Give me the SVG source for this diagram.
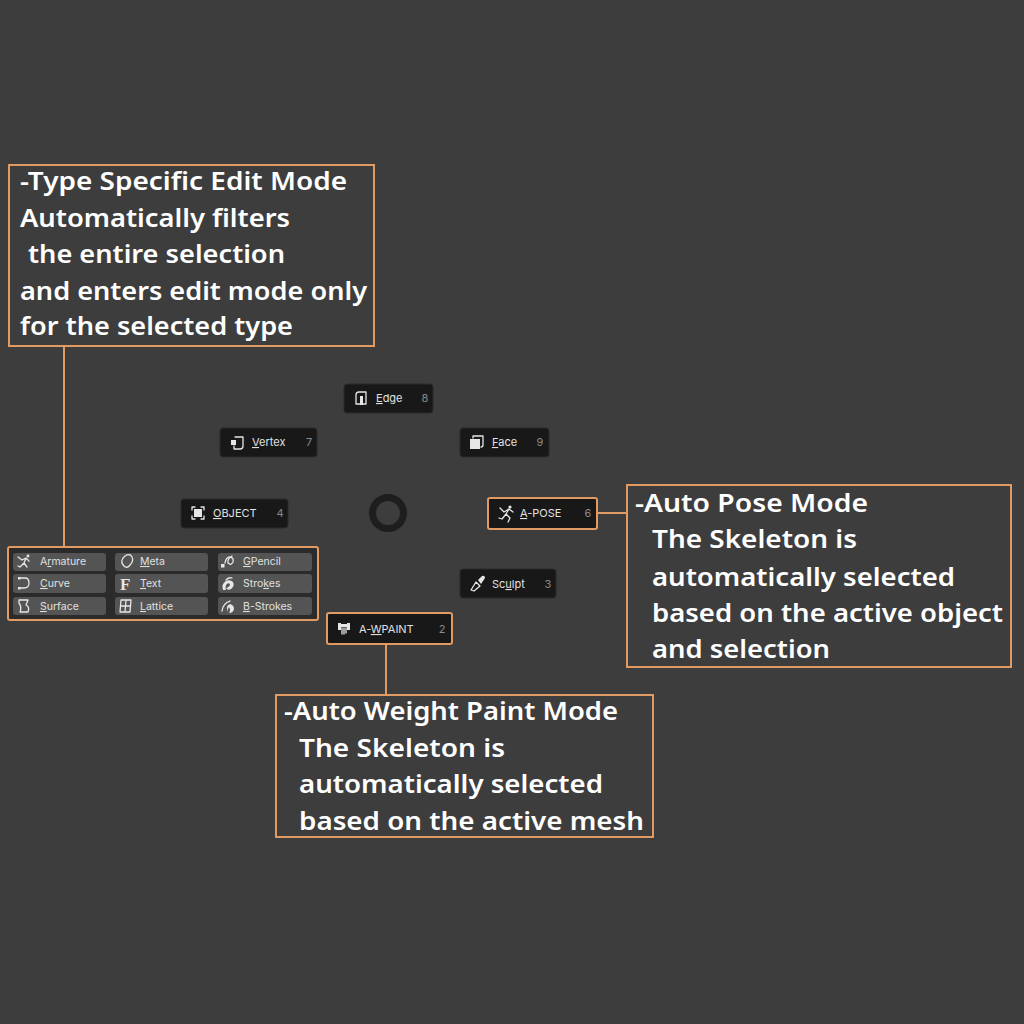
<svg xmlns="http://www.w3.org/2000/svg" width="1024" height="1024" viewBox="0 0 1024 1024">
<defs>
<style>
.bg{fill:#3d3d3d}
.note{fill:#3d3d3d;stroke:#e09a62;stroke-width:2}
.conn{stroke:#e09a62;stroke-width:2;fill:none}
.nt{font-family:"Noto Sans","DejaVu Sans",sans-serif;font-weight:600;font-size:25px;fill:#ffffff}
.pb{fill:#181818;stroke:#2a2a2a;stroke-width:1}
.pbs{fill:#181818;stroke:#e09a62;stroke-width:2}
.pt{font-family:Inter,"Noto Sans",sans-serif;font-size:11px;fill:#e0e0e0}
.pn{font-family:Inter,"Noto Sans",sans-serif;font-size:11px;fill:#8a8a8a;text-anchor:middle}
.gb{fill:#545454}
.gt{font-family:Inter,"Noto Sans",sans-serif;font-size:10.5px;fill:#e0e0e0}
.ic{fill:none;stroke:#e6e6e6;stroke-width:1.3;stroke-linecap:round;stroke-linejoin:round}
.icf{fill:#e6e6e6}
</style>
</defs>
<rect class="bg" x="0" y="0" width="1024" height="1024"/>

<g id="connectors">
<line class="conn" x1="64" y1="346" x2="64" y2="547"/>
<line class="conn" x1="597" y1="513" x2="627" y2="513"/>
<line class="conn" x1="386" y1="644" x2="386" y2="695"/>
</g>

<g id="note-type-edit">
<rect class="note" x="9" y="165" width="365" height="181"/>
<text class="nt" x="20" y="190" textLength="327" lengthAdjust="spacingAndGlyphs">-Type Specific Edit Mode</text>
<text class="nt" x="20" y="227" textLength="270" lengthAdjust="spacingAndGlyphs">Automatically filters</text>
<text class="nt" x="28" y="263" textLength="257" lengthAdjust="spacingAndGlyphs">the entire selection</text>
<text class="nt" x="20" y="300" textLength="347" lengthAdjust="spacingAndGlyphs">and enters edit mode only</text>
<text class="nt" x="20" y="335" textLength="273" lengthAdjust="spacingAndGlyphs">for the selected type</text>
</g>

<g id="note-pose">
<rect class="note" x="627" y="485" width="384" height="182"/>
<text class="nt" x="635" y="512" textLength="233" lengthAdjust="spacingAndGlyphs">-Auto Pose Mode</text>
<text class="nt" x="652" y="548" textLength="205" lengthAdjust="spacingAndGlyphs">The Skeleton is</text>
<text class="nt" x="652" y="586" textLength="303" lengthAdjust="spacingAndGlyphs">automatically selected</text>
<text class="nt" x="652" y="622" textLength="351" lengthAdjust="spacingAndGlyphs">based on the active object</text>
<text class="nt" x="652" y="658" textLength="178" lengthAdjust="spacingAndGlyphs">and selection</text>
</g>

<g id="note-wpaint">
<rect class="note" x="276" y="695" width="377" height="142"/>
<text class="nt" x="284" y="720" textLength="334" lengthAdjust="spacingAndGlyphs">-Auto Weight Paint Mode</text>
<text class="nt" x="299" y="757" textLength="206" lengthAdjust="spacingAndGlyphs">The Skeleton is</text>
<text class="nt" x="299" y="793" textLength="304" lengthAdjust="spacingAndGlyphs">automatically selected</text>
<text class="nt" x="299" y="830" textLength="345" lengthAdjust="spacingAndGlyphs">based on the active mesh</text>
</g>

<g id="pie-center">
<circle cx="388" cy="513" r="15.5" fill="none" stroke="#1e1e1e" stroke-width="7"/>
</g>

<g id="btn-edge">
<rect class="pb" x="344" y="384" width="89" height="29" rx="3"/>
<path class="ic" d="M356 404 V395 Q356 392 359 392 H366 V404 Z"/>
<rect class="icf" x="360" y="396" width="3" height="9"/>
<text class="pt" x="376" y="402"><tspan text-decoration="underline">E</tspan>dge</text>
<text class="pn" x="425" y="402">8</text>
</g>

<g id="btn-vertex">
<rect class="pb" x="220" y="428" width="97" height="29" rx="3"/>
<path class="ic" d="M235 437 H243 V446 Q243 449 240 449 H234 V446"/>
<rect class="icf" x="231" y="440" width="5" height="5"/>
<text class="pt" x="252" y="446"><tspan text-decoration="underline">V</tspan>ertex</text>
<text class="pn" x="309" y="446">7</text>
</g>

<g id="btn-face">
<rect class="pb" x="460" y="428" width="89" height="29" rx="3"/>
<path class="ic" d="M473 438 V436 H483 V445 Q483 447 481 447"/>
<rect class="icf" x="470" y="439" width="10" height="10"/>
<text class="pt" x="492" y="446"><tspan text-decoration="underline">F</tspan>ace</text>
<text class="pn" x="540" y="446">9</text>
</g>

<g id="btn-object">
<rect class="pb" x="181" y="499" width="107" height="29" rx="3"/>
<path class="ic" d="M192 510 V507 H195 M201 507 H204 V510 M204 516 V519 H201 M195 519 H192 V516"/>
<rect class="icf" x="194" y="509" width="8" height="8"/>
<text class="pt" x="213" y="517"><tspan text-decoration="underline">O</tspan>BJECT</text>
<text class="pn" x="280" y="517">4</text>
</g>

<g id="btn-apose">
<rect class="pbs" x="488" y="498" width="109" height="31" rx="2"/>
<circle class="icf" cx="510" cy="507" r="1.6"/>
<path class="ic" d="M500 508 L504 512 L509 509 L513 512 M509 509 L506 514 L510 518 L508 522 M506 514 L502 519 L499 518"/>
<text class="pt" x="520" y="517"><tspan text-decoration="underline">A</tspan>-POSE</text>
<text class="pn" x="588" y="517">6</text>
</g>

<g id="btn-sculpt">
<rect class="pb" x="460" y="569" width="96" height="29" rx="3"/>
<path class="ic" d="M471 590 L476 582 L480 586 L474 591 Z"/>
<path class="icf" d="M478 580 L482 576 Q485 575 485 578 L481 584 Z"/>
<text class="pt" x="492" y="588">Sc<tspan text-decoration="underline">u</tspan>lpt</text>
<text class="pn" x="548" y="588">3</text>
</g>

<g id="btn-awpaint">
<rect class="pbs" x="327" y="613" width="125" height="31" rx="2"/>
<path class="icf" d="M338 623 H341 V630 H338 Z M347 623 H350 V630 H347 Z M341 624 H347 V627 H341 Z"/>
<path class="ic" d="M342 628 V634 M344 628 V634 M346 628 V633"/>
<text class="pt" x="359" y="633">A-<tspan text-decoration="underline">W</tspan>PAINT</text>
<text class="pn" x="442" y="633">2</text>
</g>

<g id="type-grid">
<rect x="8" y="547" width="310" height="73" fill="#2b2b2b" stroke="#e09a62" stroke-width="2" rx="2"/>
<g id="btn-armature">
<rect class="gb" x="13" y="553" width="93" height="18" rx="3"/>
<circle class="icf" cx="28" cy="556" r="1.4"/>
<path class="ic" d="M18 557 L22 560 L26 558 L29 561 M26 558 L24 563 L27 567 M24 563 L20 567 L18 566" stroke-width="1.1"/>
<text class="gt" x="40" y="565">A<tspan text-decoration="underline">r</tspan>mature</text>
</g>
<g id="btn-curve">
<rect class="gb" x="13" y="574" width="93" height="19" rx="3"/>
<path class="ic" d="M20 578 H25 Q29 578 29 583 Q29 588 24 588 H20" stroke-width="1.1"/>
<rect class="icf" x="18" y="577" width="2.5" height="2.5"/>
<rect class="icf" x="18" y="587" width="2.5" height="2.5"/>
<text class="gt" x="40" y="587"><tspan text-decoration="underline">C</tspan>urve</text>
</g>
<g id="btn-surface">
<rect class="gb" x="13" y="597" width="93" height="18" rx="3"/>
<path class="ic" d="M19 600 H28 L26 605 Q30 607 28 612 H20 Q22 607 19 603 Z" stroke-width="1.1"/>
<text class="gt" x="40" y="610"><tspan text-decoration="underline">S</tspan>urface</text>
</g>
<g id="btn-meta">
<rect class="gb" x="115" y="553" width="93" height="18" rx="3"/>
<path class="ic" d="M124 566 Q119 561 125 556 Q130 553 132 557 Q134 561 130 565 Q127 569 124 566 Z" stroke-width="1.1"/>
<text class="gt" x="140" y="565"><tspan text-decoration="underline">M</tspan>eta</text>
</g>
<g id="btn-text">
<rect class="gb" x="115" y="574" width="93" height="19" rx="3"/>
<text x="120" y="590" font-family="'Liberation Serif',serif" font-size="17" font-weight="bold" fill="#e6e6e6">F</text>
<text class="gt" x="140" y="587"><tspan text-decoration="underline">T</tspan>ext</text>
</g>
<g id="btn-lattice">
<rect class="gb" x="115" y="597" width="93" height="18" rx="3"/>
<path class="ic" d="M121 600 H131 L130 612 H120 Z M126 600 L125 612 M120.5 606 H130.5" stroke-width="1.1"/>
<text class="gt" x="140" y="610"><tspan text-decoration="underline">L</tspan>attice</text>
</g>
<g id="btn-gpencil">
<rect class="gb" x="218" y="553" width="94" height="18" rx="3"/>
<rect class="icf" x="221" y="564" width="3.5" height="3.5"/>
<path class="ic" d="M225 563 Q226 557 230 557 Q234 558 233 562 Q231 566 228 563 Q227 559 232 556" stroke-width="1.1"/>
<text class="gt" x="243" y="565"><tspan text-decoration="underline">G</tspan>Pencil</text>
</g>
<g id="btn-strokes">
<rect class="gb" x="218" y="574" width="94" height="19" rx="3"/>
<path class="icf" d="M223 590 Q221 584 226 581 Q230 579 233 582 Q235 586 231 589 Q228 591 226 588 Q230 587 230 584 Q228 582 226 585 Q225 588 226 590 Z"/>
<path class="ic" d="M226 580 Q229 577 232 578" stroke-width="1.4"/>
<text class="gt" x="243" y="587">Stro<tspan text-decoration="underline">k</tspan>es</text>
</g>
<g id="btn-bstrokes">
<rect class="gb" x="218" y="597" width="94" height="18" rx="3"/>
<path class="ic" d="M222 611 Q223 603 230 601" stroke-width="1.1"/>
<path class="icf" d="M228 612 Q225 606 230 604 Q234 605 234 609 Q233 613 229 613 Q231 610 229 607 Q227 609 228 612 Z"/>
<text class="gt" x="243" y="610"><tspan text-decoration="underline">B</tspan>-Strokes</text>
</g>
</g>
</svg>
